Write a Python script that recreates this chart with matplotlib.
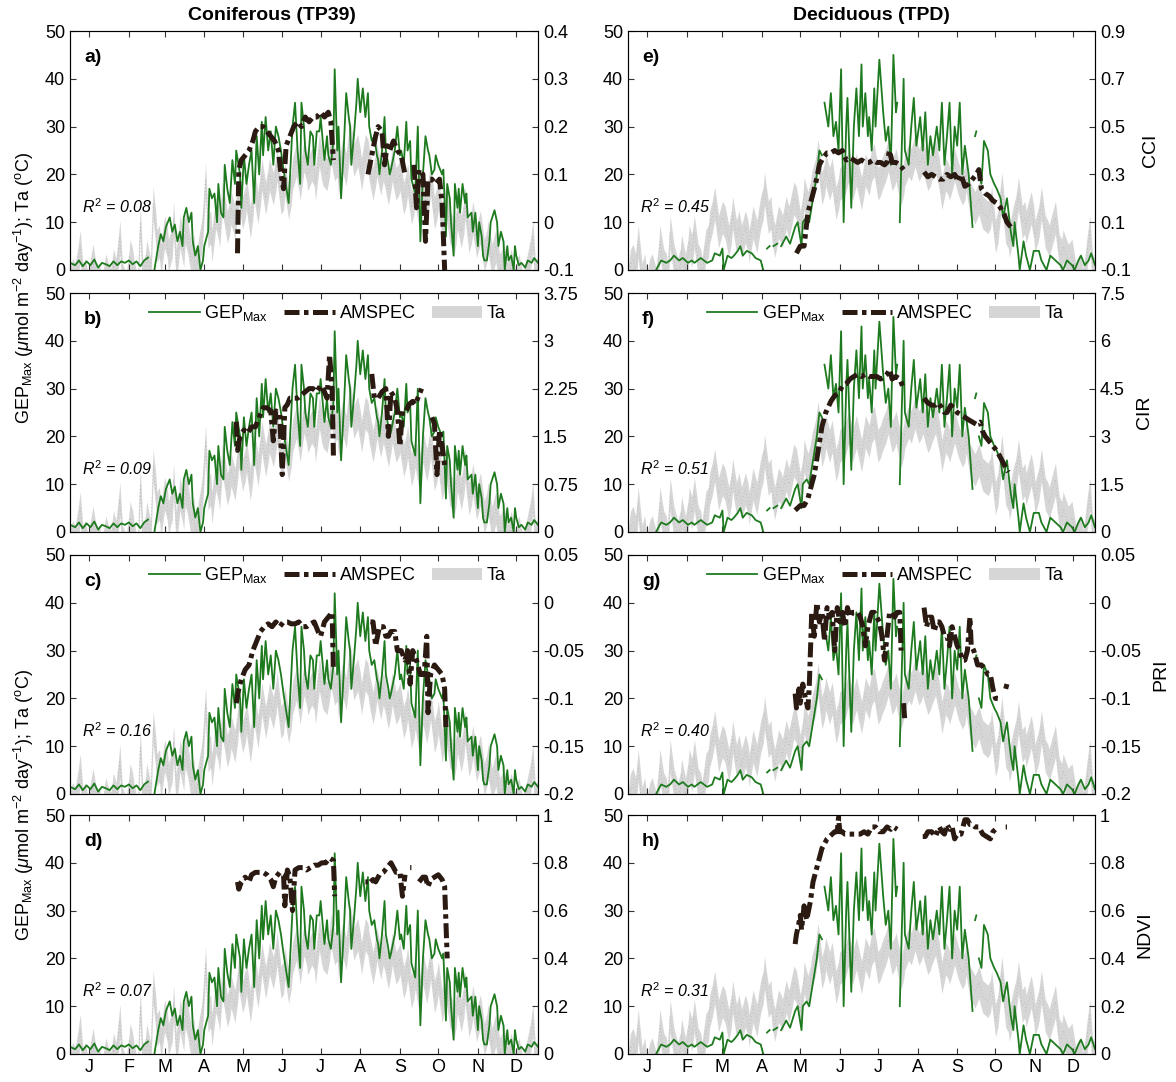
import numpy as np
import matplotlib
matplotlib.use('Agg')
import matplotlib.pyplot as plt
from matplotlib.lines import Line2D
from matplotlib.patches import Patch

nan = np.nan

# ---- data: (day of year, value) ----
# GEP_Max, coniferous site (same series in panels a-d)
gep_tp39 = [(0, 1.5), (4, 1.0), (7, 2.0), (10, 0.8), (13, 1.8), (16, 1.0), (19, 2.2), (22, 0.5), (25, 1.5),
            (28, 1.2), (31, 0.8), (34, 1.8), (37, 1.0), (40, 1.8), (43, 1.5), (46, 2.0), (49, 1.2), (52, 1.8),
            (55, 0.8), (58, 2.0), (61, 2.6), (63, nan), (66, 0), (69, 5), (71, 7.5), (73, 6), (75, 9), (78, 11),
            (80, 8), (82, 9.5), (84, 6), (86, 8), (88, 5), (89, 11), (91, 13), (93, 10), (95, 12), (96, 6),
            (98, 3), (100, 5), (102, 0), (104, 2), (105, 5), (107, 7), (108, 8), (109, 17), (111, 15), (113, 16),
            (115, 10), (116, 18), (118, 12), (120, 11), (121, 22), (123, 17), (125, 14), (127, 23), (129, 18),
            (130, 25), (133, 20), (134, 13), (136, 24), (138, 18), (140, 22), (142, 25), (144, 14), (146, 28),
            (148, 20), (150, 31), (151, 24), (153, 32), (155, 25), (157, 29), (159, 22), (161, 30), (163, 28),
            (165, 25), (167, 21), (171, 14), (174, 30), (176, 35), (178, 25), (180, 18), (181, 35), (183, 30),
            (184, 25), (186, 22), (188, 29), (190, 28), (191, 22), (193, 29), (195, 29), (196, 32), (199, 23),
            (201, 28), (202, 24), (204, 22), (206, 27), (207, 42), (209, 25), (210, 30), (212, 15), (214, 25),
            (216, 37), (218, 32), (219, 30), (220, 22), (222, 28), (224, 35), (225, 40), (227, 33), (229, 38),
            (231, 32), (233, 37), (234, 30), (236, 27), (238, 28), (240, 24), (241, 23), (242, 20), (244, 25),
            (246, 32), (247, 25), (249, 22), (250, 20), (251, 21), (254, 25), (256, 30), (258, 24), (259, 25),
            (261, 22), (263, 31), (264, 25), (266, 27), (267, 19), (270, 16), (272, 30), (273, 18), (274, 6),
            (276, 20), (278, 28), (280, 25), (281, 24), (283, 20), (285, 21), (286, 24), (288, 22), (291, 20),
            (292, 21), (294, 7), (295, 18), (297, 15), (298, 10), (300, 3), (301, 18), (303, 13), (304, 17),
            (305, 12), (307, 18), (309, 14), (310, 16), (311, 11), (314, 12), (315, 8), (317, 12), (319, 5),
            (320, 10), (322, 7), (323, 3), (324, 2), (326, 2), (328, 6), (329, 10), (332, 12.5), (334, 10),
            (335, 5), (337, 8), (339, 6), (340, 0), (342, 5), (343, 2), (345, 3), (347, 0), (348, 5), (349, 3),
            (351, 1), (353, 1.5), (356, 0.5), (358, 2), (361, 1.5), (363, 2.5), (366, 1.5)]

# GEP_Max, deciduous site (panels e-h)
gep_tpd = [(22, 0), (26, 2), (30, 1.5), (33, 2), (36, 3), (40, 2), (43, 2.5), (47, 1.5), (50, 2), (52, 1.5),
           (57, 2.5), (62, 1.5), (66, 2), (68, 3.5), (72, 3), (74, 4.5), (75, 0), (78, 3), (81, 2.5), (83, 3),
           (86, 4), (88, 5), (90, 3), (93, 4), (97, 3.5), (100, 2.5), (104, 2), (106, 0), (107, nan), (109, 4.5),
           (111, 5), (112, nan), (114, 5), (117, 5.5), (118, nan), (120, 5), (122, 6), (124, 7), (127, 5.5),
           (131, 9), (133, 10), (136, 5), (137, 10), (140, 11), (142, 10), (145, 15), (148, 20), (150, 25),
           (152, 24), (153, nan), (154, 35), (157, 30), (159, 37), (161, 28), (163, 31), (165, 25), (167, 42),
           (169, 10), (171, 30), (172, 36), (175, 13), (177, 30), (179, 38), (181, 28), (183, 43), (184, 30),
           (186, 37), (188, 28), (189, 32), (191, 25), (193, 38), (194, 30), (197, 44), (200, 33), (202, 27),
           (204, 30), (206, 22), (208, 45), (210, 33), (211, 35), (212, nan), (213, 10), (216, 40), (217, 25),
           (220, 22), (222, 30), (224, 36), (226, 26), (229, 32), (231, 25), (233, 33), (235, 22), (237, 28),
           (239, 24), (242, 30), (244, 25), (246, 35), (248, 22), (250, 28), (252, 35), (254, 20), (256, 30),
           (258, 26), (260, 35), (262, 20), (264, 26), (267, 20), (270, 9), (271, nan), (272, 28), (273, 29),
           (274, nan), (275, 20), (277, 18), (279, 27), (282, 25), (284, 20), (287, 18), (289, 17), (292, 15),
           (294, 11), (297, 15), (300, 8), (302, 5), (303, 10), (306, 3), (307, 0), (310, 6), (312, 3), (315, 0),
           (318, 4), (322, 4), (324, 2), (328, 0), (331, 3), (335, 2), (339, 1), (341, 0), (344, 2), (348, 1),
           (350, 0), (353, 2), (355, 3), (358, 1), (361, 2), (363, 3.5), (366, 1)]

# air temperature (centre of the grey band)
ta_tp39 = [(0, -3), (2, -1), (4, -2), (6, 1), (8, 5), (10, -2), (12, -1), (14, -4), (16, -1), (18, 2),
           (21, -3), (23, -2), (25, -5), (28, 0), (30, -2), (32, -3), (34, 1), (36, -1), (38, 4), (39, 7),
           (41, -2), (44, -4), (46, 0), (47, 3), (49, 1), (50, -1), (53, -5), (54, 4), (55, 10), (57, -2),
           (59, 0), (60, 3), (63, -1), (65, 14), (67, 9), (68, 5), (70, 6), (71, 2), (74, 8), (76, 6), (77, 3),
           (80, 6), (81, 11), (83, 1), (85, 5), (86, 8), (89, 4), (90, 9), (92, 7), (95, 2), (97, 4), (98, -1),
           (101, 4), (103, 7), (104, 10), (106, 19), (108, 8), (110, 9), (111, 5), (114, 12), (116, 10),
           (117, 8), (119, 15), (120, 14), (123, 9), (125, 11), (126, 13), (129, 10), (131, 14), (132, 17),
           (135, 12), (137, 14), (138, 16), (141, 10), (143, 14), (144, 18), (147, 13), (149, 17), (150, 20),
           (153, 15), (155, 18), (156, 20), (159, 17), (161, 20), (162, 22), (165, 15), (167, 16), (168, 19),
           (171, 14), (173, 17), (174, 20), (177, 23), (179, 20), (180, 18), (183, 24), (185, 22), (186, 20),
           (189, 22), (191, 21), (192, 18), (195, 25), (197, 22), (198, 21), (201, 20), (203, 23), (204, 26),
           (207, 22), (209, 23), (210, 19), (213, 24), (215, 22), (216, 21), (219, 28), (221, 25), (222, 23),
           (225, 25), (227, 22), (228, 20), (231, 25), (233, 24), (234, 22), (237, 18), (239, 21), (240, 23),
           (243, 19), (245, 22), (246, 21), (249, 17), (251, 20), (252, 22), (255, 18), (257, 19), (258, 20),
           (261, 15), (263, 17), (264, 19), (267, 13), (269, 15), (270, 17), (273, 12), (275, 15), (276, 18),
           (279, 14), (281, 17), (282, 19), (285, 12), (287, 14), (288, 16), (291, 10), (293, 13), (294, 15),
           (297, 9), (299, 8), (300, 6), (302, 9), (303, 12), (306, 8), (308, 11), (309, 14), (312, 7),
           (314, 9), (315, 11), (318, 6), (320, 8), (321, 9), (324, 3), (326, 5), (327, 7), (330, 2), (332, 4),
           (333, 5), (336, 0), (338, 1), (339, 3), (342, -2), (344, 0), (345, 1), (348, -3), (350, -1), (351, 0),
           (354, -4), (356, -2), (357, -1), (360, 3), (362, 7), (364, -2), (366, 0)]

ta_tpd = [(0, -3), (2, 1), (4, 2), (6, 0), (8, 6), (11, -2), (13, 0), (15, -4), (17, -1), (19, 0), (22, -3),
          (24, 2), (25, 6), (28, 1), (30, 0), (31, -2), (33, 8), (35, 4), (36, 2), (39, -1), (41, 1), (42, 4),
          (45, 0), (47, 3), (48, 6), (50, 4), (52, 8), (55, 2), (57, 1), (58, -1), (61, 5), (63, 6), (64, 9),
          (66, 11), (68, 14), (71, 8), (73, 10), (74, 11), (76, 10), (79, 6), (81, 9), (82, 12), (85, 7),
          (87, 9), (89, 6), (92, 9), (94, 7), (95, 5), (98, 10), (100, 8), (101, 7), (104, 12), (106, 14),
          (107, 17), (110, 11), (112, 12), (113, 9), (115, 6), (118, 10), (120, 9), (121, 8), (124, 12),
          (126, 10), (127, 11), (130, 15), (132, 14), (135, 9), (137, 12), (138, 16), (141, 13), (143, 15),
          (144, 17), (147, 20), (149, 24), (152, 17), (154, 19), (155, 21), (158, 18), (160, 20), (163, 14),
          (165, 16), (166, 18), (170, 19), (172, 21), (173, 22), (176, 18), (178, 20), (179, 21), (183, 16),
          (185, 19), (186, 21), (189, 19), (191, 22), (193, 23), (196, 18), (198, 19), (199, 20), (202, 22),
          (204, 24), (207, 20), (209, 21), (210, 22), (214, 17), (216, 19), (217, 21), (220, 23), (222, 22),
          (225, 25), (228, 22), (230, 23), (231, 24), (235, 20), (237, 21), (238, 22), (241, 24), (244, 20),
          (246, 16), (249, 20), (251, 19), (252, 18), (256, 22), (258, 20), (259, 19), (262, 17), (264, 18),
          (265, 20), (268, 15), (270, 14), (272, 13), (275, 15), (277, 13), (278, 12), (282, 11), (284, 12),
          (285, 14), (288, 7), (290, 9), (291, 12), (293, 17), (296, 9), (298, 8), (299, 6), (302, 10),
          (304, 12), (306, 16), (309, 10), (311, 11), (312, 9), (316, 13), (318, 10), (319, 7), (322, 10),
          (324, 14), (327, 8), (329, 7), (330, 6), (333, 9), (335, 11), (338, 4), (340, 3), (341, 5), (345, 2),
          (348, 3), (351, -2), (354, 0), (357, -3), (360, 4), (362, 8), (364, 0), (366, -1)]
TA_SPREAD = 3.4  # half width of the grey band

# AMSPEC indices (right-hand axis units)
cci_tp39 = [(131, -0.065), (132, 0.11), (134, 0.13), (137, 0.14), (140, 0.15), (143, 0.17), (145, 0.19),
            (148, 0.2), (151, 0.2), (154, 0.19), (157, 0.18), (160, 0.17), (163, 0.15), (165, 0.1), (167, 0.07),
            (169, 0.16), (172, 0.18), (175, 0.2), (178, 0.21), (181, 0.2), (184, 0.22), (187, 0.21), (190, 0.22),
            (193, 0.22), (196, 0.23), (199, 0.22), (202, 0.23), (204, 0.21), (206, 0.13), (210, nan), (233, 0.1),
            (236, 0.14), (239, 0.18), (241, 0.2), (244, 0.19), (246, 0.12), (248, 0.16), (250, 0.15),
            (253, 0.17), (256, 0.15), (259, 0.14), (262, 0.1), (265, nan), (269, 0.12), (271, 0.03), (273, 0.11),
            (276, 0.1), (278, -0.04), (280, 0.09), (283, 0.09), (286, 0.08), (289, 0.09), (291, 0.04),
            (293, -0.1)]

cir_tp39 = [(130, 1.73), (131, 1.28), (133, 1.5), (136, 1.6), (139, 1.55), (142, 1.65), (145, 1.65),
            (148, 1.8), (151, 1.95), (154, 1.95), (157, 1.9), (159, 1.43), (161, 1.9), (164, 1.85), (166, 0.9),
            (168, 1.95), (170, 2.0), (172, 2.1), (175, 2.1), (178, 2.1), (181, 2.15), (184, 2.2), (187, 2.25),
            (190, 2.25), (193, 2.2), (196, 2.3), (199, 2.2), (201, 2.1), (203, 2.78), (205, 2.25), (206, 1.2),
            (210, nan), (236, 2.48), (238, 2.1), (241, 2.1), (244, 2.2), (247, 2.25), (249, 1.5), (251, 2.2),
            (254, 2.1), (256, 1.9), (258, 1.35), (260, 1.9), (263, 1.9), (265, 2.0), (268, 2.05), (270, 2.0),
            (272, 2.1), (275, 2.25), (278, nan), (283, 1.8), (285, 1.7), (287, 0.9), (289, 1.6), (291, 1.35),
            (293, 1.05)]

pri_tp39 = [(130, -0.105), (132, -0.09), (134, -0.08), (137, -0.07), (140, -0.065), (143, -0.05),
            (146, -0.04), (149, -0.03), (152, -0.025), (155, -0.022), (158, -0.025), (161, -0.02),
            (164, -0.025), (167, -0.02), (170, -0.02), (173, -0.022), (176, -0.022), (179, -0.02),
            (182, -0.025), (185, -0.025), (188, -0.022), (191, -0.02), (194, -0.03), (196, -0.035),
            (199, -0.02), (202, -0.015), (205, -0.01), (206, -0.07), (210, nan), (235, -0.02), (237, -0.02),
            (239, -0.045), (242, -0.025), (245, -0.025), (247, -0.035), (249, -0.035), (251, -0.03),
            (254, -0.03), (256, -0.05), (259, -0.05), (262, -0.06), (264, -0.05), (266, -0.085), (268, -0.05),
            (271, -0.06), (274, -0.075), (277, -0.075), (279, -0.035), (280, -0.115), (282, -0.075),
            (285, -0.065), (288, -0.07), (291, -0.075), (293, -0.09), (294, -0.13)]

ndvi_tp39 = [(131, 0.72), (132, 0.69), (134, 0.72), (137, 0.74), (140, 0.72), (142, 0.75), (145, 0.76),
             (148, 0.76), (151, 0.76), (154, 0.75), (157, 0.73), (159, 0.70), (161, 0.74), (164, 0.76),
             (167, 0.75), (168, 0.62), (170, 0.77), (172, 0.74), (174, 0.6), (176, 0.77), (179, 0.78),
             (182, 0.78), (185, 0.77), (188, 0.78), (191, 0.79), (194, 0.79), (197, 0.8), (200, 0.8),
             (203, 0.82), (206, 0.81), (207, 0.66), (210, nan), (231, 0.72), (233, 0.72), (234, nan),
             (235, 0.72), (237, 0.73), (239, 0.72), (242, 0.75), (245, 0.76), (248, 0.78), (251, 0.8),
             (253, 0.78), (255, 0.76), (258, 0.76), (260, 0.66), (262, 0.75), (265, nan), (266, 0.78),
             (267, 0.78), (269, nan), (273, 0.72), (276, 0.74), (278, 0.74), (280, 0.7), (282, 0.73),
             (285, 0.74), (288, 0.75), (291, 0.73), (293, 0.7), (295, 0.4)]

cci_tpd = [(132, -0.03), (135, 0.0), (138, 0.0), (141, 0.14), (144, 0.2), (147, 0.26), (150, 0.34),
           (153, 0.37), (156, 0.39), (159, 0.39), (162, 0.4), (165, 0.39), (168, 0.4), (171, 0.36), (174, 0.37),
           (177, 0.36), (180, 0.35), (183, 0.36), (186, 0.35), (189, 0.35), (192, 0.36), (195, 0.35),
           (198, 0.35), (201, 0.34), (203, 0.35), (205, 0.4), (207, 0.35), (210, 0.35), (213, 0.34),
           (216, 0.32), (218, nan), (232, 0.31), (235, 0.29), (238, 0.3), (241, 0.29), (244, 0.28), (247, 0.28),
           (250, 0.3), (253, 0.29), (256, 0.3), (259, 0.27), (261, 0.3), (264, 0.25), (267, 0.26), (270, 0.28),
           (273, 0.3), (275, 0.32), (277, 0.24), (280, 0.22), (283, 0.21), (286, 0.19), (289, 0.18),
           (292, 0.16), (295, 0.13), (297, 0.1), (300, 0.08)]

cir_tpd = [(131, 0.68), (135, 0.83), (138, 0.83), (141, 1.05), (144, 1.5), (146, 1.8), (149, 2.55), (152, 3.3),
           (155, 3.75), (159, 4.1), (162, 4.28), (165, 4.35), (168, 4.58), (171, 4.65), (174, 4.8), (177, 4.88),
           (180, 4.95), (183, 4.88), (186, 4.95), (189, 4.88), (192, 4.88), (195, 4.88), (198, 4.8),
           (201, 4.88), (203, 4.95), (205, 5.1), (207, 4.8), (210, 4.88), (213, 4.8), (216, 4.5), (220, nan),
           (232, 4.2), (235, 4.05), (238, 3.98), (241, 3.98), (243, 4.05), (246, 3.9), (248, 3.75), (250, 3.75),
           (253, 3.98), (255, 3.9), (258, 3.75), (261, 3.68), (264, 3.6), (267, 3.52), (270, 3.45), (273, 3.38),
           (276, 3.45), (278, 3.15), (280, 3.0), (283, 2.85), (286, 2.7), (289, 2.55), (292, 2.33), (295, 2.1),
           (297, 1.95), (298, 1.88)]

pri_tpd = [(131, -0.095), (132, -0.11), (134, -0.09), (135, -0.105), (137, -0.085), (139, -0.1), (141, -0.11),
           (142, -0.09), (144, -0.01), (146, -0.035), (148, 0.0), (150, -0.02), (152, -0.01), (154, -0.04),
           (156, -0.005), (158, -0.015), (160, -0.01), (162, -0.05), (164, -0.005), (166, -0.02), (168, -0.01),
           (170, -0.025), (172, -0.005), (174, -0.015), (176, -0.01), (178, -0.01), (180, -0.01), (182, -0.015),
           (184, -0.025), (186, -0.045), (188, -0.025), (191, -0.01), (193, -0.01), (195, -0.015), (197, -0.02),
           (199, -0.035), (201, -0.06), (203, -0.035), (205, -0.01), (207, -0.01), (209, -0.015), (211, -0.01),
           (213, -0.01), (214, -0.05), (215, nan), (216, -0.105), (217, -0.125), (218, nan), (232, -0.005),
           (234, -0.025), (236, -0.015), (238, -0.015), (240, -0.03), (242, -0.02), (244, -0.02), (246, -0.025),
           (248, -0.035), (250, -0.035), (252, -0.045), (254, -0.025), (256, -0.035), (258, -0.045),
           (260, -0.05), (262, -0.06), (264, -0.06), (266, -0.05), (268, -0.015), (269, -0.045), (271, -0.05),
           (274, -0.065), (277, -0.065), (280, -0.07), (282, -0.075), (284, -0.075), (286, -0.09), (288, -0.1),
           (290, -0.1), (292, nan), (296, -0.09), (297, -0.085)]

ndvi_tpd = [(131, 0.46), (132, 0.5), (134, 0.55), (135, 0.58), (136, 0.52), (138, 0.62), (140, 0.56),
            (143, 0.64), (145, 0.72), (147, 0.76), (149, 0.8), (151, 0.84), (152, 0.86), (154, 0.88), (156, 0.9),
            (158, 0.91), (160, 0.92), (162, 0.93), (164, 0.93), (165, 0.99), (166, 0.93), (168, 0.93),
            (170, 0.92), (173, 0.92), (176, 0.92), (179, 0.92), (182, 0.92), (185, 0.93), (188, 0.92),
            (191, 0.95), (194, 0.95), (197, 0.93), (200, 0.93), (203, 0.95), (206, 0.94), (208, 0.95),
            (211, 0.94), (213, nan), (231, 0.91), (233, 0.91), (235, 0.93), (238, 0.93), (241, 0.91), (244, 0.95),
            (246, 0.93), (248, 0.92), (250, 0.96), (252, 0.94), (254, 0.95), (256, 0.9), (258, 0.92), (261, 0.92),
            (264, 0.98), (266, 0.98), (268, 0.96), (270, 0.96), (272, 0.95), (275, 0.95), (278, 0.92),
            (281, 0.91), (284, 0.9), (286, 0.93), (288, 0.94), (290, nan), (296, 0.95), (297, 0.95)]

r2_tp39 = ['0.08', '0.09', '0.16', '0.07']
r2_tpd = ['0.45', '0.51', '0.40', '0.31']
index_names = ['CCI', 'CIR', 'PRI', 'NDVI']
right_ticks = [[-0.1, 0, 0.1, 0.2, 0.3, 0.4],
               [0, 0.75, 1.5, 2.25, 3, 3.75],
               [-0.2, -0.15, -0.1, -0.05, 0, 0.05],
               [0, 0.2, 0.4, 0.6, 0.8, 1]]
right_ticks_tpd = [[-0.1, 0.1, 0.3, 0.5, 0.7, 0.9],
                   [0, 1.5, 3, 4.5, 6, 7.5],
                   [-0.2, -0.15, -0.1, -0.05, 0, 0.05],
                   [0, 0.2, 0.4, 0.6, 0.8, 1]]
month_days = [15, 46, 74, 105, 135, 166, 196, 227, 258, 288, 319, 349]
month_labels = ['J', 'F', 'M', 'A', 'M', 'J', 'J', 'A', 'S', 'O', 'N', 'D']

# ---- style ----
plt.rcParams['font.family'] = ['Liberation Sans', 'DejaVu Sans']
plt.rcParams['mathtext.fontset'] = 'custom'
plt.rcParams['mathtext.rm'] = 'Liberation Sans'
plt.rcParams['mathtext.it'] = 'Liberation Sans:italic'
plt.rcParams['mathtext.bf'] = 'Liberation Sans:bold'

GREEN = '#1e7a1e'
GREY = '#d6d6d6'
DARK = '#2a1a12'
DASH = (0, (3.0, 0.9, 0.9, 0.9))
FS = 13


def split(series):
    d = np.array([p[0] for p in series], dtype=float)
    v = np.array([p[1] for p in series], dtype=float)
    return d, v


def draw_panel(ax, gep, ta, amspec, rticks, letter, r2, legend, bottom, rlabel):
    td, tv = split(ta)
    ax.fill_between(td, tv - TA_SPREAD, tv + TA_SPREAD, color=GREY, lw=0)
    ax.plot(td, tv, color='#a8a8a8', lw=0.5, ls=(0, (1, 4)))
    gd, gv = split(gep)
    ax.plot(gd, gv, color=GREEN, lw=1.3)
    ax.set_xlim(0, 366)
    ax.set_ylim(0, 50)
    ax.set_yticks([0, 10, 20, 30, 40, 50])
    ax.set_xticks(month_days)
    if bottom:
        ax.set_xticklabels(month_labels)
    else:
        ax.set_xticklabels([])
    ax.tick_params(direction='in', top=True, right=False, labelsize=FS, length=4, color='#333333')
    for sp in ax.spines.values():
        sp.set_color('#555555')
    ax.text(0.03, 0.89, letter, transform=ax.transAxes, fontsize=14, fontweight='bold', va='center')
    ax.text(0.025, 0.265, r'$R^2$ = ' + r2, transform=ax.transAxes, fontsize=11.5, style='italic',
            va='center')

    ax2 = ax.twinx()
    ad, av = split(amspec)
    ax2.plot(ad, av, color=DARK, lw=3.6, ls=DASH, solid_capstyle='butt', dash_capstyle='butt')
    ax2.set_ylim(rticks[0], rticks[-1])
    ax2.set_yticks(rticks)
    ax2.set_yticklabels(['%g' % t for t in rticks])
    ax2.tick_params(direction='in', labelsize=FS, length=4, color='#333333')
    if rlabel:
        ax2.set_ylabel(rlabel, fontsize=14, labelpad=8)

    if legend:
        handles = [Line2D([], [], color=GREEN, lw=1.3),
                   Line2D([], [], color=DARK, lw=3.6, ls=DASH),
                   Patch(facecolor=GREY, edgecolor='none')]
        labels = [r'GEP$_{\mathrm{Max}}$', 'AMSPEC', 'Ta']
        ax.legend(handles, labels, loc='center', bbox_to_anchor=(0.55, 0.915), ncol=3, frameon=False,
                  fontsize=FS, handlelength=2.8, handletextpad=0.25, columnspacing=0.9)


fig = plt.figure(figsize=(11.76, 10.82), dpi=100)
W, H = 1176.0, 1082.0
row_tops = [31, 293, 555, 815]
row_h = 239
letters_l = ['a)', 'b)', 'c)', 'd)']
letters_r = ['e)', 'f)', 'g)', 'h)']
amspec_l = [cci_tp39, cir_tp39, pri_tp39, ndvi_tp39]
amspec_r = [cci_tpd, cir_tpd, pri_tpd, ndvi_tpd]

for i in range(4):
    b = 1 - (row_tops[i] + row_h) / H
    axl = fig.add_axes([70 / W, b, 468 / W, row_h / H])
    axr = fig.add_axes([628 / W, b, 467 / W, row_h / H])
    draw_panel(axl, gep_tp39, ta_tp39, amspec_l[i], right_ticks[i], letters_l[i], r2_tp39[i],
               i in (1, 2), i == 3, None)
    draw_panel(axr, gep_tpd, ta_tpd, amspec_r[i], right_ticks_tpd[i], letters_r[i], r2_tpd[i],
               i in (1, 2), i == 3, index_names[i])

fig.text(272 / W, 1 - 16 / H, 'Coniferous (TP39)', fontsize=14, fontweight='bold', ha='center', va='center')
fig.text(871 / W, 1 - 16 / H, 'Deciduous (TPD)', fontsize=14, fontweight='bold', ha='center', va='center')

ylab = r'GEP$_{\mathrm{Max}}$ ($\mu$mol m$^{-2}$ day$^{-1}$); Ta ($^{\mathrm{o}}$C)'
fig.text(24 / W, 1 - 288 / H, ylab, rotation=90, va='center', ha='center', fontsize=13)
fig.text(24 / W, 1 - 805 / H, ylab, rotation=90, va='center', ha='center', fontsize=13)

fig.savefig('out.png', dpi=100)
